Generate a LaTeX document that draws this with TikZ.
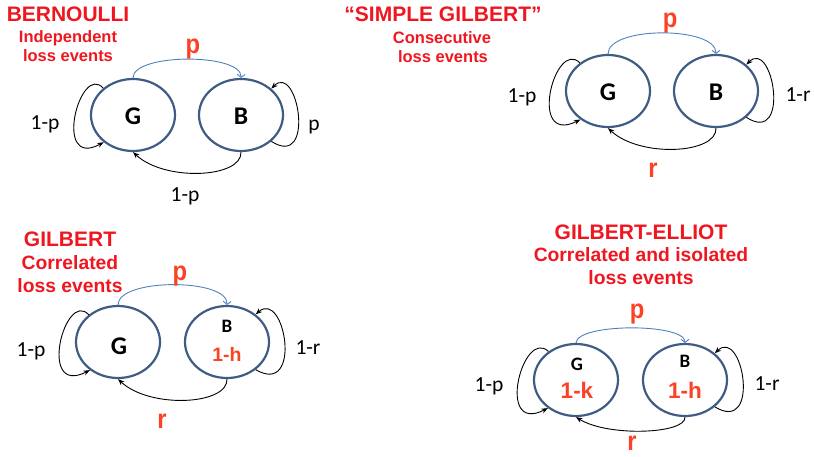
\documentclass[tikz,border=0pt]{standalone}
\usepackage{fontspec}
\setmainfont{Carlito}
\newfontfamily\arialf{Liberation Sans}
\usetikzlibrary{shapes.geometric,arrows.meta}
\definecolor{titred}{RGB}{240,22,32}
\definecolor{lblred}{RGB}{250,66,36}
\definecolor{stroke}{RGB}{62,92,132}
\definecolor{arcblue}{RGB}{79,129,189}
\newcommand{\narrowtxt}[1]{\scalebox{0.88}[1]{#1}}
\begin{document}
\begin{tikzpicture}[x=1pt,y=-1pt,
  st/.style={ellipse, draw=stroke, line width=2.2pt, minimum width=84pt, minimum height=72pt, inner sep=0pt},
  loopar/.style={draw=black, line width=0.9pt, -{Stealth[length=6.5pt,width=5pt]}},
  parc/.style={draw=arcblue, line width=0.9pt, -{Straight Barb[length=3pt,width=8pt]}},
  ttl/.style={font=\arialf\bfseries\fontsize{21}{24}\selectfont, text=titred, inner sep=0pt},
  subs/.style={font=\arialf\bfseries\fontsize{16.5}{20}\selectfont, text=titred, inner sep=0pt},
  subl/.style={font=\arialf\bfseries\fontsize{19.3}{22}\selectfont, text=titred, inner sep=0pt},
  lbl/.style={font=\fontsize{21.5}{24}\selectfont, inner sep=0pt},
  rl/.style={font=\arialf\bfseries\fontsize{27}{30}\selectfont, text=lblred, inner sep=0pt},
  stbig/.style={font=\bfseries\fontsize{25.5}{28}\selectfont, inner sep=0pt},
  stsm/.style={font=\bfseries\fontsize{19}{22}\selectfont, inner sep=0pt},
  stred/.style={font=\arialf\bfseries\fontsize{22.5}{26}\selectfont, text=lblred, inner sep=0pt},
  stredsm/.style={font=\arialf\bfseries\fontsize{19.5}{22}\selectfont, text=lblred, inner sep=0pt}]
\useasboundingbox (0,0) rectangle (814,456);

% ---------------- Q1 BERNOULLI
\node[ttl] (t1) at (68,14.5) {BERNOULLI};
\node[subs] (s1a) at (68,38.5) {Independent};
\node[subs] (s1b) at (68,56) {loss events};
\node[st] (G1) at (133,115) {};
\node[st] (B1) at (241,115) {};
\node[stbig] (G1l) at (133,116) {G};
\node[stbig] (B1l) at (241,116) {B};
\draw[parc] (G1.90) .. controls (133,53) and (242,53) .. (B1.90);
\node[rl] (p1) at (193,49) {\narrowtxt{p}};
\draw[loopar] (G1.138) .. controls (80,62) and (52,170) .. (G1.223);
\node[lbl] (l1a) at (45,124) {1-p};
\draw[loopar] (B1.319) .. controls (316,170) and (298,62) .. (B1.41);
\node[lbl] (l1b) at (314,127) {p};
\draw[loopar] (B1.270) .. controls (242,178) and (165,182) .. (G1.270);
\node[lbl] (l1c) at (185,196) {1-p};

% ---------------- Q2 SIMPLE GILBERT
\node[ttl] (t2) at (443,14) {“SIMPLE GILBERT”};
\node[subs] (s2a) at (442,37.5) {Consecutive};
\node[subs] (s2b) at (443,56.5) {loss events};
\node[st] (G2) at (608,91) {};
\node[st] (B2) at (716,91) {};
\node[stbig] (G2l) at (608,92) {G};
\node[stbig] (B2l) at (716,92) {B};
\draw[parc] (G2.90) .. controls (608,26) and (716,26) .. (B2.90);
\node[rl] (p2) at (670,23) {\narrowtxt{p}};
\draw[loopar] (G2.135) .. controls (555,38) and (527,146) .. (G2.226);
\node[lbl] (l2a) at (522,97) {1-p};
\draw[loopar] (B2.319) .. controls (791,146) and (773,38) .. (B2.41);
\node[lbl] (l2b) at (798,95) {1-r};
\draw[loopar] (B2.270) .. controls (717,154) and (640,158) .. (G2.270);
\node[rl] (r2) at (653,170) {\narrowtxt{r}};

% ---------------- Q3 GILBERT
\node[ttl] (t3) at (70,239.5) {GILBERT};
\node[subl] (s3a) at (70,263) {Correlated};
\node[subl] (s3b) at (70,285.5) {loss events};
\node[st] (G3) at (118,342) {};
\node[st] (B3) at (227,342) {};
\node[stbig] (G3l) at (119,346) {G};
\node[stsm] (B3l) at (227,326) {B};
\node[stredsm] (B3h) at (227,354) {1-h};
\draw[parc] (G3.90) .. controls (118,278) and (228,278) .. (B3.90);
\node[rl] (p3) at (180,276) {\narrowtxt{p}};
\draw[loopar] (G3.137) .. controls (65,289) and (37,397) .. (G3.225);
\node[lbl] (l3a) at (31,351) {1-p};
\draw[loopar] (B3.316) .. controls (303,397) and (285,289) .. (B3.44);
\node[lbl] (l3b) at (308,348) {1-r};
\draw[loopar] (B3.270) .. controls (228,405) and (150,409) .. (G3.270);
\node[rl] (r3) at (162,421) {\narrowtxt{r}};

% ---------------- Q4 GILBERT-ELLIOT
\node[ttl] (t4) at (641,232) {GILBERT-ELLIOT};
\node[subl] (s4a) at (641,255) {Correlated and isolated};
\node[subl] (s4b) at (641,278) {loss events};
\node[st] (G4) at (576,380) {};
\node[st] (B4) at (685,380) {};
\node[stsm] (G4l) at (577,364) {G};
\node[stred] (G4k) at (577,390) {1-k};
\node[stsm] (B4l) at (685,361) {B};
\node[stred] (B4h) at (685,390) {1-h};
\draw[parc] (G4.90) .. controls (577,323) and (685,323) .. (B4.90);
\node[rl] (p4) at (637,314) {\narrowtxt{p}};
\draw[loopar] (G4.134) .. controls (523,327) and (495,435) .. (G4.225);
\node[lbl] (l4a) at (489,386) {1-p};
\draw[loopar] (B4.318) .. controls (761,435) and (743,327) .. (B4.42);
\node[lbl] (l4b) at (767,384) {1-r};
\draw[loopar] (B4.270) .. controls (686,434) and (608,437) .. (G4.270);
\node[rl] (r4) at (632,443) {\narrowtxt{r}};
\end{tikzpicture}
\end{document}
